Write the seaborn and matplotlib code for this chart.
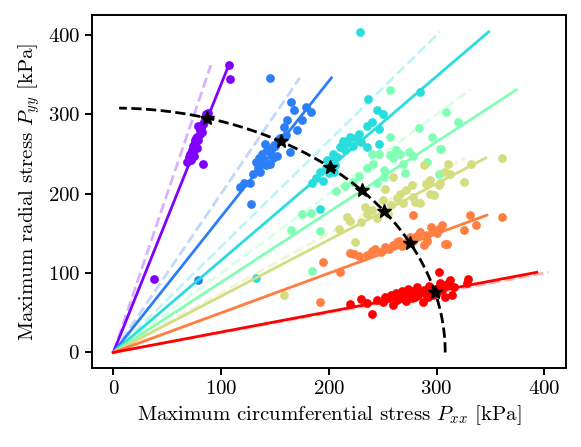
import numpy as np
import pandas as pd
import matplotlib
matplotlib.use("Agg")
import matplotlib.pyplot as plt
import seaborn as sns

# scatter data, one cluster per loading direction (kPa)
purple_x = [38, 68, 70, 71, 72, 73, 74, 75, 75, 76, 77, 78, 78, 79, 80, 80, 81, 82, 83, 84,
            85, 86, 87, 88, 83, 107, 108, 74, 76, 79]
purple_y = [92, 240, 246, 250, 243, 255, 260, 248, 262, 265, 270, 258, 272, 268, 275, 280, 282, 278, 237, 290,
            295, 300, 298, 302, 288, 362, 345, 252, 268, 285]

blue_x = [79, 118, 121, 127, 128, 130, 132, 134, 135, 137, 138, 140, 141, 142, 143, 145, 146, 147, 148, 150,
          152, 153, 155, 158, 160, 161, 164, 165, 168, 170, 175, 179, 183, 145, 136, 149]
blue_y = [91, 208, 213, 213, 187, 225, 240, 232, 245, 238, 250, 243, 263, 236, 255, 238, 250, 258, 245, 260,
          248, 268, 270, 284, 274, 293, 253, 316, 305, 280, 293, 309, 303, 346, 228, 262]

cyan_x = [132, 184, 188, 192, 195, 197, 198, 200, 203, 204, 206, 208, 210, 212, 213, 215, 218, 220, 222, 225,
          228, 230, 235, 235, 236, 240, 245, 247, 247, 250, 285, 229, 192, 205]
cyan_y = [94, 213, 220, 181, 216, 233, 243, 226, 240, 250, 236, 246, 259, 262, 267, 255, 265, 272, 260, 270,
          275, 265, 286, 259, 320, 290, 305, 282, 263, 300, 328, 404, 228, 228]

aqua_x = [165, 175, 183, 192, 184, 207, 215, 222, 228, 235, 241, 245, 247, 251, 251, 257, 257, 257, 260, 262,
          266, 269, 271, 274, 278, 284, 291, 296, 302, 303, 304, 309, 320, 240]
aqua_y = [154, 175, 176, 153, 103, 204, 210, 215, 222, 233, 238, 213, 250, 221, 230, 331, 272, 249, 245, 255,
          250, 238, 226, 252, 248, 283, 240, 271, 225, 257, 257, 303, 290, 250]

yg_x = [158, 209, 217, 220, 224, 230, 234, 235, 240, 245, 250, 252, 255, 258, 260, 263, 266, 269, 272, 277,
        278, 280, 285, 288, 290, 294, 294, 298, 302, 303, 308, 311, 312, 325, 332, 361]
yg_y = [72, 156, 171, 166, 139, 165, 183, 175, 180, 170, 192, 206, 175, 186, 221, 195, 200, 188, 205, 211,
        196, 190, 188, 236, 212, 217, 200, 198, 211, 213, 228, 238, 225, 215, 238, 245]

orange_x = [192, 195, 210, 220, 223, 228, 235, 240, 243, 248, 252, 256, 260, 263, 265, 268, 270, 273, 275, 278,
            280, 283, 285, 288, 291, 291, 295, 297, 300, 302, 305, 308, 310, 325, 331, 337, 361, 278]
orange_y = [64, 114, 102, 125, 124, 121, 123, 128, 131, 126, 133, 130, 135, 139, 141, 134, 137, 142, 145, 140,
            146, 148, 152, 136, 141, 148, 158, 154, 150, 155, 160, 137, 137, 154, 173, 160, 171, 173]

red_x = [220, 230, 235, 240, 245, 250, 252, 255, 258, 260, 262, 263, 265, 267, 268, 270, 272, 273, 275, 277,
         278, 280, 282, 283, 285, 287, 288, 290, 292, 293, 295, 297, 299, 300, 302, 303, 305, 308, 310, 312,
         314, 316, 328, 329]
red_y = [61, 67, 62, 48, 66, 64, 70, 68, 72, 60, 75, 66, 73, 69, 78, 71, 65, 80, 74, 68,
         77, 70, 82, 72, 76, 63, 79, 74, 70, 84, 78, 73, 80, 75, 101, 88, 79, 70, 86, 91,
         72, 82, 87, 92]

groups_x = [purple_x, blue_x, cyan_x, aqua_x, yg_x, orange_x, red_x]
groups_y = [purple_y, blue_y, cyan_y, aqua_y, yg_y, orange_y, red_y]

# fitted slopes (solid) and nominal slopes (dashed)
fit_slopes = [3.38, 1.71, 1.16, 0.885, 0.709, 0.499, 0.257]
nominal_slopes = [4.0, 2.0, 4 / 3, 1.0, 0.75, 0.5, 0.25]
radius = 308

plt.rcParams.update({
    "font.family": "serif",
    "font.serif": ["cmr10", "DejaVu Serif"],
    "mathtext.fontset": "cm",
    "axes.formatter.use_mathtext": True,
    "font.size": 15,
})

colors = [plt.cm.rainbow(v) for v in np.linspace(0, 1, 7)]

fig, ax = plt.subplots(figsize=(5.81, 4.47), dpi=100)
fig.subplots_adjust(left=0.158, right=0.974, bottom=0.176, top=0.966)

for i in range(7):
    df = pd.DataFrame({"x": groups_x[i], "y": groups_y[i]})
    sns.scatterplot(data=df, x="x", y="y", color=colors[i], s=40, linewidth=0, ax=ax, zorder=2 + i * 0.1)
    ymax = max(groups_y[i])
    xs = np.linspace(0, ymax / fit_slopes[i], 50)
    ax.plot(xs, fit_slopes[i] * xs, color=colors[i], lw=2, zorder=2 + i * 0.1)
    xd = np.linspace(0, ymax / nominal_slopes[i], 50)
    ax.plot(xd, nominal_slopes[i] * xd, color=colors[i], lw=2, ls="--", alpha=0.3, zorder=2 + i * 0.1)

theta = np.linspace(0, np.deg2rad(89), 200)
ax.plot(radius * np.cos(theta), radius * np.sin(theta), color="black", lw=2, ls="--", zorder=4)

m = np.array(fit_slopes)
sx = radius / np.sqrt(1 + m ** 2)
ax.plot(sx, m * sx, ls="none", marker="*", color="black", markersize=10, zorder=5)

ax.set_xlim(-20, 420)
ax.set_ylim(-20, 425)
ax.set_xticks([0, 100, 200, 300, 400])
ax.set_yticks([0, 100, 200, 300, 400])
ax.set_xlabel(r"Maximum circumferential stress $P_{xx}$ [kPa]")
ax.set_ylabel(r"Maximum radial stress $P_{yy}$ [kPa]")
for sp in ax.spines.values():
    sp.set_linewidth(1.4)
ax.tick_params(width=1.4, length=5)

fig.savefig("out.png", dpi=100)
